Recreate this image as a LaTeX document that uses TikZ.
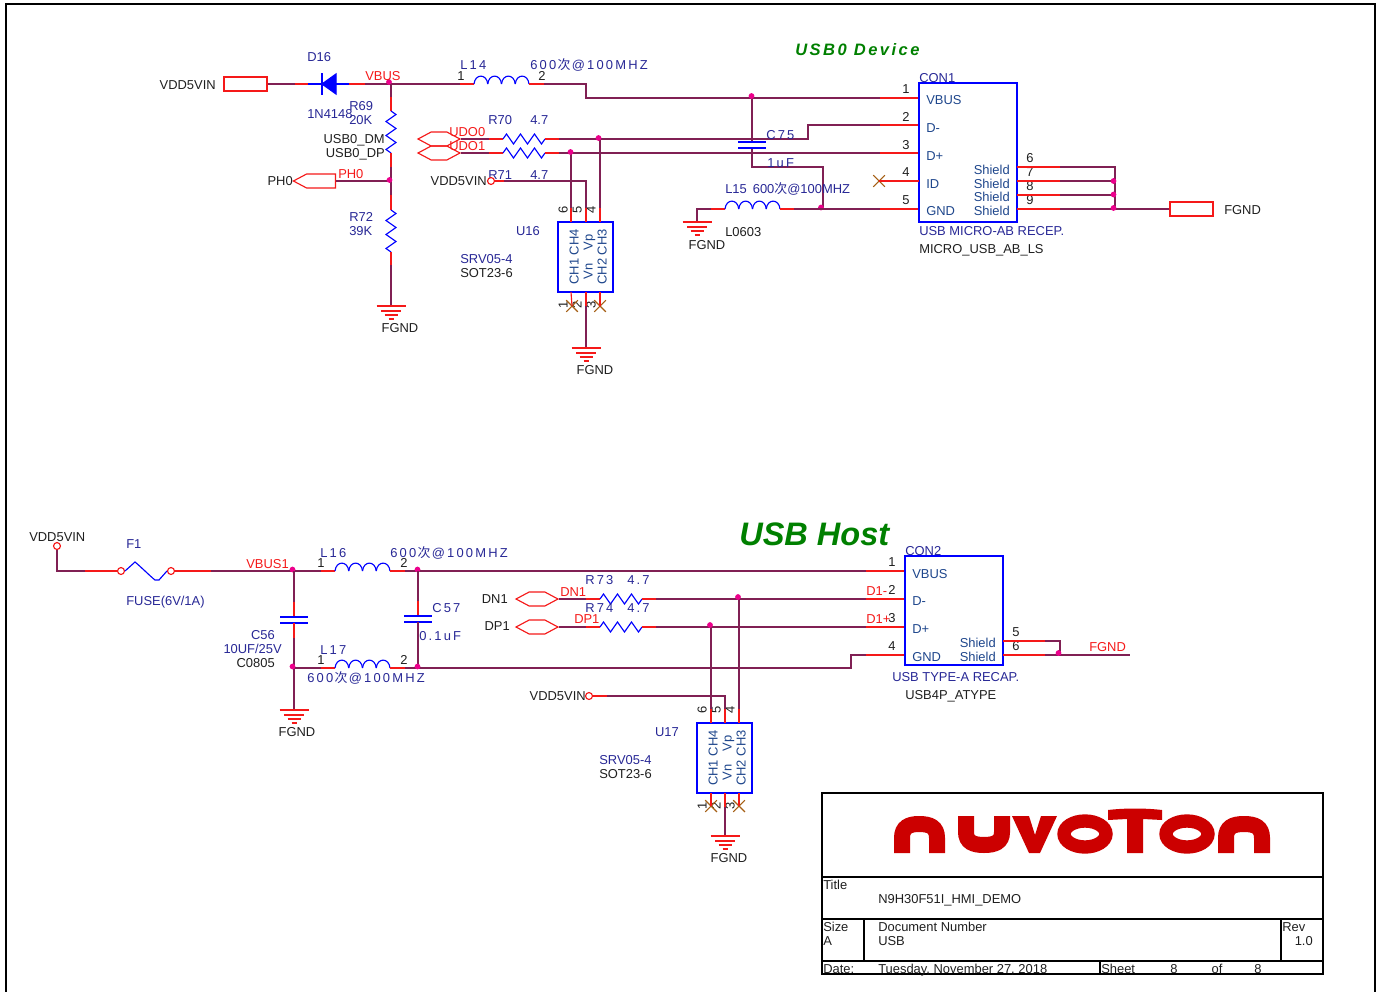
\documentclass[tikz,border=0pt]{standalone}
\usepackage{fontspec}
\usepackage{xcolor}
\setmainfont{Liberation Sans}
\newfontfamily\cjk{Noto Sans CJK SC}
\newfontfamily\spc[LetterSpace=17]{Liberation Sans}
\newfontfamily\ttlspc[LetterSpace=15]{Liberation Sans}
\usetikzlibrary{positioning,calc,shapes.misc,shapes.symbols}
\definecolor{wirecol}{RGB}{128,32,84}
\definecolor{pincol}{RGB}{245,25,25}
\definecolor{reftxt}{RGB}{40,40,150}
\definecolor{symtxt}{RGB}{30,70,140}
\definecolor{nccol}{RGB}{165,95,20}
\definecolor{logored}{RGB}{204,0,0}
\definecolor{hostgreen}{RGB}{0,128,0}
\newcommand{\beadtxt}{{\spc 600\kern1pt{\cjk 次}\kern1pt@100MHZ}}
\tikzset{
  every node/.style={font=\fontsize{9.7}{11}\selectfont,inner sep=0pt,text height=7pt,text depth=0pt,text=black!88},
  wire/.style={draw=wirecol,line width=0.85pt},
  pin/.style={draw=pincol,line width=0.85pt},
  comp/.style={draw=blue,line width=0.85pt},
  frameline/.style={draw=black,line width=1.3pt},
  blockline/.style={draw=black,line width=1pt},
  ltxt/.style={anchor=west,yshift=-0.75pt},
  rtxt/.style={anchor=east,yshift=-0.75pt},
  reflbl/.style={anchor=west,text=reftxt,yshift=-0.75pt},
  refr/.style={anchor=east,text=reftxt,yshift=-0.75pt},
  netlbl/.style={anchor=west,text=pincol,yshift=-0.75pt},
  symlbl/.style={anchor=west,text=symtxt,yshift=-0.75pt},
  symr/.style={anchor=east,text=symtxt,yshift=-0.75pt},
  pinnum/.style={anchor=center,yshift=-0.75pt},
  pinrot/.style={anchor=center,rotate=90},
  symrot/.style={anchor=center,rotate=90,text=symtxt},
  chipbox/.style={draw=blue,line width=0.95pt,text height=0pt},
  portbox/.style={draw=pincol,line width=1pt,minimum width=32.25pt,minimum height=10.5pt,text height=0pt},
  porthex/.style={draw=pincol,line width=0.85pt,shape=signal,signal to=west and east,signal pointer angle=56,minimum width=31.5pt,minimum height=10.5pt,text height=0pt},
  portpent/.style={draw=pincol,line width=0.85pt,shape=signal,signal to=west,signal pointer angle=56,minimum width=31.5pt,minimum height=10.5pt,text height=0pt},
  dot/.style={circle,fill=magenta,minimum size=4.3pt,text height=0pt},
  opencirc/.style={circle,draw=pincol,line width=0.85pt,fill=white,minimum size=5.2pt,text height=0pt},
  ncmark/.style={cross out,draw=nccol,line width=0.8pt,minimum size=8pt,text height=0pt},
  ressym/.pic={\draw[comp] (0,0) -- (3.5,-5) -- (10.5,5) -- (17.5,-5) -- (24.5,5) -- (31.5,-5) -- (38.5,5) -- (42,0);},
  indsym/.pic={\foreach \k in {0,1,2,3} \draw[comp] (13.75*\k,0) .. controls +(1,-10.5) and +(-1,-10.5) .. +(13.75,0);},
  capsym/.pic={\draw[comp] (-14,0) -- (14,0); \draw[comp] (-14,6) -- (14,6);},
  gndsym/.pic={\draw[pin] (-14.5,0) -- (14.5,0); \draw[pin] (-10,5) -- (10,5); \draw[pin] (-6.5,9) -- (6.5,9); \draw[pin] (-2.5,13) -- (2.5,13);}
}
\begin{document}
\begin{tikzpicture}[x=0.75pt,y=-0.75pt]
\useasboundingbox[fill=white] (0,0) rectangle (1378,992);
\draw[frameline] (6,992) -- (6,4) -- (1375,4) -- (1375,992);

\node[anchor=west,text=hostgreen,font=\fontsize{12.4}{14}\ttlspc\bfseries\itshape] (ttlusb0) at (795,51) {USB0 Device};
\node[anchor=west,text=hostgreen,font=\fontsize{24.4}{26}\selectfont\bfseries\itshape,text height=17pt] (ttlhost) at (739,534) {USB Host};

\node[portbox] (vddport) at (245.5,84) {};
\node[rtxt] (vddtxt) at (216,84) {VDD5VIN};
\coordinate (d16a) at (322,84);
\coordinate (d16k) at (336,84);
\coordinate (vbusn) at (391,84);
\coordinate (l14a) at (474,84);
\coordinate (l14b) at (529,84);
\coordinate (l14r) at (586,84);
\coordinate (c1p1) at (919,98);
\coordinate (c1p2) at (919,125);
\coordinate (c1p3) at (919,153);
\coordinate (c1p4) at (919,181);
\coordinate (c1p5) at (919,209);
\draw[wire] (vddport.east) -- (d16a);
\draw[pin] ($(d16a)+(-27,0)$) -- ++(14,0);
\draw[comp] (d16a) -- ++(-14,0);
\draw[comp,fill=blue] (d16a) -- (336,74) -- (336,94) -- cycle;
\draw[comp] (322,73) -- (322,95);
\draw[wire] (d16k) -- (vbusn) -- (l14a);
\draw[comp] (d16k) -- ++(13,0);
\draw[pin] ($(d16k)+(13,0)$) -- ++(16,0);
\draw[pin] (l14a) -- ++(-14,0);
\pic at (l14a) {indsym};
\draw[wire] (l14b) -- (l14r) -- (586,98) -- (c1p1);
\draw[pin] (l14b) -- ++(15,0);
\draw[pin] (c1p1) -- ++(-39,0);
\node[dot] (jvbus) at (389,82) {};
\node[netlbl] (vbustxt) at (365,75) {VBUS};
\node[reflbl] (d16txt) at (307,56) {D16};
\node[reflbl] (d16val) at (307,113) {1N4148};
\node[reflbl] (l14txt) at (460,63.5) {\spc L14};
\node[pinnum] (l14n1) at (461,74.5) {1};
\node[pinnum] (l14n2) at (542,74.5) {2};
\node[reflbl] (l14val) at (530,63.5) {\beadtxt};

\coordinate (r69a) at (391,111);
\coordinate (r69b) at (391,153);
\coordinate (ph0n) at (391,181);
\coordinate (r72a) at (391,210);
\coordinate (r72b) at (391,252);
\coordinate (gnd1) at (391,306);
\draw[wire] (vbusn) -- (r69a);
\draw[pin] (r69a) -- ++(0,-14);
\pic[rotate=-90] at (r69a) {ressym};
\draw[wire] (r69b) -- (ph0n) -- (r72a);
\draw[pin] (r69b) -- ++(0,14);
\draw[pin] (r72a) -- ++(0,-15);
\pic[rotate=-90] at (r72a) {ressym};
\draw[wire] (r72b) -- (gnd1);
\draw[pin] (r72b) -- ++(0,13);
\pic at (gnd1) {gndsym};
\node[pinnum] (gnd1txt) at (400,327) {FGND};
\node[reflbl] (r69txt) at (349,105) {R69};
\node[reflbl] (r69val) at (349,119) {20K};
\node[reflbl] (r72txt) at (349,216) {R72};
\node[reflbl] (r72val) at (349,230) {39K};
\node[rtxt] (dmtxt) at (385,138) {USB0\_DM};
\node[rtxt] (dptxt) at (385,152) {USB0\_DP};
\node[portpent,anchor=east] (ph0port) at (336,181) {};
\draw[wire] (ph0port.east) -- (ph0n);
\node[dot] (jph0) at (389.5,180) {};
\node[rtxt] (ph0txt) at (293,180) {PH0};
\node[netlbl] (ph0net) at (338,173) {PH0};

\node[porthex] (udo0) at (439,139) {};
\node[porthex] (udo1) at (439,153) {};
\node[netlbl] (udo0txt) at (449,131) {UDO0};
\node[netlbl] (udo1txt) at (449,145) {UDO1};
\coordinate (r70a) at (503,139);
\coordinate (r70b) at (545,139);
\coordinate (r71a) at (503,153);
\coordinate (r71b) at (545,153);
\coordinate (dmbend) at (808,139);
\draw[wire] (udo0.east) -- (r70a);
\draw[wire] (udo1.east) -- (r71a);
\draw[pin] (r70a) -- ++(-14,0);
\draw[pin] (r71a) -- ++(-14,0);
\pic at (r70a) {ressym};
\pic at (r71a) {ressym};
\draw[wire] (r70b) -- (dmbend) -- (808,125) -- (c1p2);
\draw[wire] (r71b) -- (c1p3);
\draw[pin] (r70b) -- ++(14,0);
\draw[pin] (r71b) -- ++(14,0);
\draw[pin] (c1p2) -- ++(-39,0);
\draw[pin] (c1p3) -- ++(-39,0);
\node[reflbl] (r70txt) at (488,119) {R70};
\node[reflbl] (r70val) at (530,119) {4.7};
\node[reflbl] (r71txt) at (488,174) {R71};
\node[reflbl] (r71val) at (530,174) {4.7};

\coordinate (c75t) at (752,98);
\coordinate (c75u) at (752,142);
\coordinate (c75d) at (752,148);
\draw[wire] (c75t) -- (c75u);
\draw[wire] (c75d) -- (752,167) -- (823,167) -- (823,209);
\pic at (c75u) {capsym};
\node[dot] (jc75) at (751.5,96) {};
\node[dot] (jl15) at (821,207.5) {};
\node[reflbl] (c75txt) at (766,133.5) {\spc C75};
\node[reflbl] (c75val) at (767,161.5) {\spc 1uF};

\coordinate (l15a) at (725,209);
\coordinate (l15b) at (780,209);
\coordinate (gnd2) at (697,222);
\draw[wire] (l15a) -- (697,209) -- (gnd2);
\draw[pin] (l15a) -- ++(-14,0);
\pic at (l15a) {indsym};
\draw[wire] (l15b) -- (c1p5);
\draw[pin] (l15b) -- ++(14,0);
\draw[pin] (c1p5) -- ++(-39,0);
\pic at (gnd2) {gndsym};
\node[pinnum] (gnd2txt) at (707,243.5) {FGND};
\node[reflbl] (l15txt) at (725,187.5) {L15\kern4.5pt 600{\cjk 次}@100MHZ};
\node[ltxt] (l15val) at (725,230.5) {L0603};

\node[chipbox,minimum width=73.5pt,minimum height=104.25pt] (con1) at (968,152.5) {};
\node[reflbl] (con1txt) at (919,76.5) {CON1};
\node[reflbl] (con1val) at (919,230) {USB MICRO-AB RECEP.};
\node[ltxt] (con1pkg) at (919,248) {MICRO\_USB\_AB\_LS};
\node[symlbl] (c1vbus) at (926,99) {VBUS};
\node[symlbl] (c1dm) at (926,127) {D-};
\node[symlbl] (c1dp) at (926,155) {D+};
\node[symlbl] (c1id) at (926,183) {ID};
\node[symlbl] (c1gnd) at (926,210) {GND};
\node[symr] (c1sh1) at (1010,169) {Shield};
\node[symr] (c1sh2) at (1010,183) {Shield};
\node[symr] (c1sh3) at (1010,196) {Shield};
\node[symr] (c1sh4) at (1010,210) {Shield};
\node[pinnum] (c1n1) at (906,88) {1};
\node[pinnum] (c1n2) at (906,116) {2};
\node[pinnum] (c1n3) at (906,144) {3};
\node[pinnum] (c1n4) at (906,171) {4};
\node[pinnum] (c1n5) at (906,199) {5};
\node[pinnum] (c1n6) at (1030,157) {6};
\node[pinnum] (c1n7) at (1030,171) {7};
\node[pinnum] (c1n8) at (1030,185) {8};
\node[pinnum] (c1n9) at (1030,199) {9};
\node[ncmark] (c1nc) at (879,181) {};
\draw[pin] (c1nc.center) -- (c1p4);
\coordinate (c1s1) at (1017,167);
\coordinate (c1s2) at (1017,181);
\coordinate (c1s3) at (1017,195);
\coordinate (c1s4) at (1017,209);
\node[portbox] (fgndport) at (1191.5,209) {};
\node[ltxt] (fgndtxt) at (1224,209) {FGND};
\draw[wire] (c1s1) -- (1115,167) -- (1115,209);
\draw[wire] (c1s2) -- (1115,181);
\draw[wire] (c1s3) -- (1115,195);
\draw[wire] (c1s4) -- (fgndport.west);
\draw[pin] (c1s1) -- ++(43,0);
\draw[pin] (c1s2) -- ++(43,0);
\draw[pin] (c1s3) -- ++(43,0);
\draw[pin] (c1s4) -- ++(43,0);
\node[dot] (js1) at (1113.5,181) {};
\node[dot] (js2) at (1113.5,194.5) {};
\node[dot] (js3) at (1113.5,208) {};

\node[chipbox,minimum width=41.25pt,minimum height=52.5pt] (u16) at (585.5,257) {};
\node[refr] (u16txt) at (540,230) {U16};
\node[reflbl] (u16val) at (460,258) {SRV05-4};
\node[ltxt] (u16pkg) at (460,272) {SOT23-6};
\node[symrot] (u16a) at (574,257) {CH1 CH4};
\node[symrot] (u16b) at (588,257) {Vn\kern10pt Vp};
\node[symrot] (u16c) at (602,257) {CH2 CH3};
\node[pinrot] (u16n6) at (563,210) {6};
\node[pinrot] (u16n5) at (577,210) {5};
\node[pinrot] (u16n4) at (591,210) {4};
\node[pinrot] (u16n1) at (563,305) {1};
\node[pinrot] (u16n2) at (577,305) {2};
\node[pinrot] (u16n3) at (591,305) {3};
\coordinate (u16p6) at (571,222);
\coordinate (u16p5) at (586,222);
\coordinate (u16p4) at (600,222);
\coordinate (gnd3) at (586,348);
\node[opencirc] (vdd1) at (491,181) {};
\node[rtxt] (vdd1txt) at (487,180) {VDD5VIN};
\draw[wire] (571,153) -- (u16p6);
\draw[wire] (600,139) -- (u16p4);
\draw[wire] (vdd1.east) -- (586,181) -- (u16p5);
\draw[pin] (vdd1.east) -- ++(9,0);
\draw[pin] (u16p6) -- ++(0,-14);
\draw[pin] (u16p5) -- ++(0,-14);
\draw[pin] (u16p4) -- ++(0,-14);
\node[dot] (ju1) at (570.5,152) {};
\node[dot] (ju2) at (598.5,138) {};
\node[ncmark] (u16nc1) at (572,306) {};
\node[ncmark] (u16nc2) at (600,306) {};
\draw[pin] (571,292) -- (u16nc1.center);
\draw[pin] (600,292) -- (u16nc2.center);
\draw[wire] (586,292) -- (gnd3);
\draw[pin] (586,292) -- ++(0,14);
\pic at (gnd3) {gndsym};
\node[pinnum] (gnd3txt) at (595,369) {FGND};

\node[opencirc] (vdd2) at (57,546) {};
\node[ltxt] (vdd2txt) at (29,536) {VDD5VIN};
\node[opencirc] (f1a) at (121,571) {};
\node[opencirc] (f1b) at (171,571) {};
\draw[wire] (vdd2.south) -- (57,571) -- (f1a.west);
\draw[pin] (85,571) -- (f1a.west);
\draw[comp] (f1a.east) -- (135,562) .. controls (140,566) and (150,576) .. (155,580) -- (159,580) -- (f1b.west);
\coordinate (vb1n) at (294,571);
\coordinate (l16a) at (335,571);
\coordinate (l16b) at (390,571);
\coordinate (c2p1) at (905,571);
\draw[wire] (f1b.east) -- (vb1n) -- (l16a);
\draw[pin] (f1b.east) -- (211,571);
\draw[pin] (l16a) -- ++(-14,0);
\pic at (l16a) {indsym};
\draw[wire] (l16b) -- (c2p1);
\draw[pin] (l16b) -- ++(15,0);
\draw[pin] (c2p1) -- ++(-39,0);
\node[dot] (jvb1) at (292.5,569.5) {};
\node[dot] (jl16) at (417.5,569.5) {};
\node[reflbl] (f1txt) at (126,543) {F1};
\node[reflbl] (f1val) at (126,600) {FUSE(6V/1A)};
\node[refr,text=pincol] (vb1txt) at (289,563) {VBUS1};
\node[reflbl] (l16txt) at (320,552) {\spc L16};
\node[pinnum] (l16n1) at (321,561.5) {1};
\node[pinnum] (l16n2) at (404,561.5) {2};
\node[reflbl] (l16val) at (390,552) {\beadtxt};

\coordinate (c56u) at (294,617);
\coordinate (c56d) at (294,623);
\coordinate (gn1) at (294,668);
\coordinate (gnd4) at (294,710);
\coordinate (l17a) at (335,668);
\coordinate (l17b) at (390,668);
\coordinate (c57u) at (418,616);
\coordinate (c57d) at (418,622);
\coordinate (l57n) at (418,668);
\draw[wire] (vb1n) -- (c56u);
\draw[pin] (c56u) -- ++(0,-15);
\pic at (c56u) {capsym};
\draw[wire] (c56d) -- (gn1) -- (gnd4);
\draw[pin] (c56d) -- ++(0,15);
\pic at (gnd4) {gndsym};
\node[pinnum] (gnd4txt) at (297,731) {FGND};
\draw[wire] (gn1) -- (l17a);
\draw[pin] (l17a) -- ++(-14,0);
\pic at (l17a) {indsym};
\draw[wire] (l17b) -- (l57n) -- (851,668) -- (851,655) -- (905,655);
\draw[pin] (l17b) -- ++(15,0);
\draw[pin] (905,655) -- ++(-39,0);
\draw[wire] (418,571) -- (c57u);
\draw[pin] (c57u) -- ++(0,-15);
\pic at (c57u) {capsym};
\draw[wire] (c57d) -- (l57n);
\node[dot] (jgn1) at (292.5,666.5) {};
\node[dot] (jl17) at (417.5,666.5) {};
\node[refr] (c56txt) at (275,634) {C56};
\node[refr] (c56val) at (282,648) {10UF/25V};
\node[rtxt] (c56pkg) at (275,662) {C0805};
\node[reflbl] (c57txt) at (432,607) {\spc C57};
\node[reflbl] (c57val) at (419,635) {\spc 0.1uF};
\node[reflbl] (l17txt) at (320,649) {\spc L17};
\node[pinnum] (l17n1) at (321,658.5) {1};
\node[pinnum] (l17n2) at (404,658.5) {2};
\node[reflbl] (l17val) at (307,677) {\beadtxt};

\node[porthex] (dn1) at (537,599) {};
\node[porthex] (dp1) at (537,627) {};
\node[rtxt] (dn1txt) at (508,598) {DN1};
\node[rtxt] (dp1txt) at (510,625) {DP1};
\node[netlbl] (dn1net) at (560,591) {DN1};
\node[netlbl] (dp1net) at (574,618) {DP1};
\coordinate (r73a) at (600,599);
\coordinate (r73b) at (642,599);
\coordinate (r74a) at (600,627);
\coordinate (r74b) at (642,627);
\coordinate (c2p2) at (905,599);
\coordinate (c2p3) at (905,627);
\draw[wire] (dn1.east) -- (r73a);
\draw[wire] (dp1.east) -- (r74a);
\draw[pin] (r73a) -- ++(-14,0);
\draw[pin] (r74a) -- ++(-14,0);
\pic at (r73a) {ressym};
\pic at (r74a) {ressym};
\draw[wire] (r73b) -- (c2p2);
\draw[wire] (r74b) -- (c2p3);
\draw[pin] (r73b) -- ++(14,0);
\draw[pin] (r74b) -- ++(14,0);
\draw[pin] (c2p2) -- ++(-39,0);
\draw[pin] (c2p3) -- ++(-39,0);
\node[reflbl] (r73txt) at (585,579) {\spc R73};
\node[reflbl] (r73val) at (627,579) {\spc 4.7};
\node[reflbl] (r74txt) at (585,607) {\spc R74};
\node[reflbl] (r74val) at (627,607) {\spc 4.7};

\node[chipbox,minimum width=73.5pt,minimum height=81.75pt] (con2) at (954,610.5) {};
\node[reflbl] (con2txt) at (905,550) {CON2};
\node[reflbl] (con2val) at (892,676) {USB TYPE-A RECAP.};
\node[ltxt] (con2pkg) at (905,694) {USB4P\_ATYPE};
\node[symlbl] (c2vbus) at (912,573) {VBUS};
\node[symlbl] (c2dm) at (912,600) {D-};
\node[symlbl] (c2dp) at (912,628) {D+};
\node[symlbl] (c2gnd) at (912,656) {GND};
\node[symr] (c2sh1) at (996,642) {Shield};
\node[symr] (c2sh2) at (996,656) {Shield};
\node[pinnum] (c2n1) at (892,561) {1};
\node[pinnum] (c2n2) at (892,589) {2};
\node[pinnum] (c2n3) at (892,617) {3};
\node[pinnum] (c2n4) at (892,645) {4};
\node[pinnum] (c2n5) at (1016,631) {5};
\node[pinnum] (c2n6) at (1016,645) {6};
\node[netlbl] (d1m) at (866,590) {D1-};
\node[netlbl] (d1p) at (866,618) {D1+};
\coordinate (c2s1) at (1003,641);
\coordinate (c2s2) at (1003,655);
\coordinate (fgndend) at (1130,655);
\draw[wire] (c2s1) -- (1060,641) -- (1060,655);
\draw[wire] (c2s2) -- (fgndend);
\draw[pin] (c2s1) -- ++(42,0);
\draw[pin] (c2s2) -- ++(42,0);
\node[dot] (jc2s) at (1058.5,653) {};
\node[netlbl] (fgndnet) at (1089,646) {FGND};

\node[chipbox,minimum width=41.25pt,minimum height=52.5pt] (u17) at (724.5,758) {};
\node[refr] (u17txt) at (679,731) {U17};
\node[reflbl] (u17val) at (599,759) {SRV05-4};
\node[ltxt] (u17pkg) at (599,773) {SOT23-6};
\node[symrot] (u17a) at (713,758) {CH1 CH4};
\node[symrot] (u17b) at (727,758) {Vn\kern10pt Vp};
\node[symrot] (u17c) at (741,758) {CH2 CH3};
\node[pinrot] (u17n6) at (702,710) {6};
\node[pinrot] (u17n5) at (716,710) {5};
\node[pinrot] (u17n4) at (730,710) {4};
\node[pinrot] (u17n1) at (702,806) {1};
\node[pinrot] (u17n2) at (716,806) {2};
\node[pinrot] (u17n3) at (730,806) {3};
\coordinate (u17p6) at (711,723);
\coordinate (u17p5) at (725,723);
\coordinate (u17p4) at (739,723);
\coordinate (gnd5) at (725,836);
\node[opencirc] (vdd3) at (589,696) {};
\node[rtxt] (vdd3txt) at (586,695) {VDD5VIN};
\draw[wire] (711,627) -- (u17p6);
\draw[wire] (739,599) -- (u17p4);
\draw[wire] (vdd3.east) -- (725,696) -- (u17p5);
\draw[pin] (vdd3.east) -- ++(14,0);
\draw[pin] (u17p6) -- ++(0,-14);
\draw[pin] (u17p5) -- ++(0,-14);
\draw[pin] (u17p4) -- ++(0,-14);
\node[dot] (ju3) at (710,625) {};
\node[dot] (ju4) at (738,597) {};
\node[ncmark] (u17nc1) at (711,806) {};
\node[ncmark] (u17nc2) at (739,806) {};
\draw[pin] (711,793) -- (u17nc1.center);
\draw[pin] (739,793) -- (u17nc2.center);
\draw[wire] (725,793) -- (gnd5);
\draw[pin] (725,793) -- ++(0,14);
\pic at (gnd5) {gndsym};
\node[pinnum] (gnd5txt) at (729,857) {FGND};

\draw[blockline] (822,793) rectangle (1323,974);
\draw[blockline] (822,877) -- (1323,877);
\draw[blockline] (822,919) -- (1323,919);
\draw[blockline] (822,961) -- (1323,961);
\draw[blockline] (864,919) -- (864,961);
\draw[blockline] (1281,919) -- (1281,961);
\draw[blockline] (1100,961) -- (1100,974);
\draw[draw=logored,line width=12pt] (902,853) -- (902,838) .. controls (902,827) and (909,824) .. (919,824) .. controls (930,824) and (937,827) .. (937,838) -- (937,853);
\draw[draw=logored,line width=12pt] (966,816) -- (966,832) .. controls (966,842) and (973,845) .. (984,845) .. controls (995,845) and (1002,842) .. (1002,832) -- (1002,816);
\fill[logored] (1012,816) -- (1029,816) -- (1035,835) -- (1041,816) -- (1057,816) -- (1040,853) -- (1029,853) -- cycle;
\draw[draw=logored,line width=10pt] (1085,834) ellipse [x radius=21,y radius=13];
\fill[logored] (1108,810) .. controls (1125,808) and (1145,808) .. (1162,810) -- (1162,820) -- (1143,819) -- (1143,853) -- (1127,853) -- (1127,819) -- (1108,820) -- cycle;
\draw[draw=logored,line width=10pt] (1187,834) ellipse [x radius=21,y radius=13];
\draw[draw=logored,line width=12pt] (1226,853) -- (1226,838) .. controls (1226,827) and (1233,824) .. (1244,824) .. controls (1255,824) and (1262,827) .. (1262,838) -- (1262,853);
\node[ltxt] (tbtitle) at (823,884) {Title};
\node[ltxt] (tbname) at (878,898) {N9H30F51I\_HMI\_DEMO};
\node[ltxt] (tbsize) at (823,926) {Size};
\node[ltxt] (tbsizev) at (823,940) {A};
\node[ltxt] (tbdoc) at (878,926) {Document Number};
\node[ltxt] (tbdocv) at (878,940) {USB};
\node[ltxt] (tbrev) at (1282,926) {Rev};
\node[rtxt] (tbrevv) at (1313,940) {1.0};
\node[ltxt] (tbdate) at (823,968) {Date:};
\node[ltxt] (tbdatev) at (878,968) {Tuesday, November 27, 2018};
\node[ltxt] (tbsheet) at (1101,968) {Sheet};
\node[pinnum] (tbsheetv) at (1174,968) {8};
\node[pinnum] (tbof) at (1217,968) {of};
\node[pinnum] (tbofv) at (1258,968) {8};
\end{tikzpicture}
\end{document}
